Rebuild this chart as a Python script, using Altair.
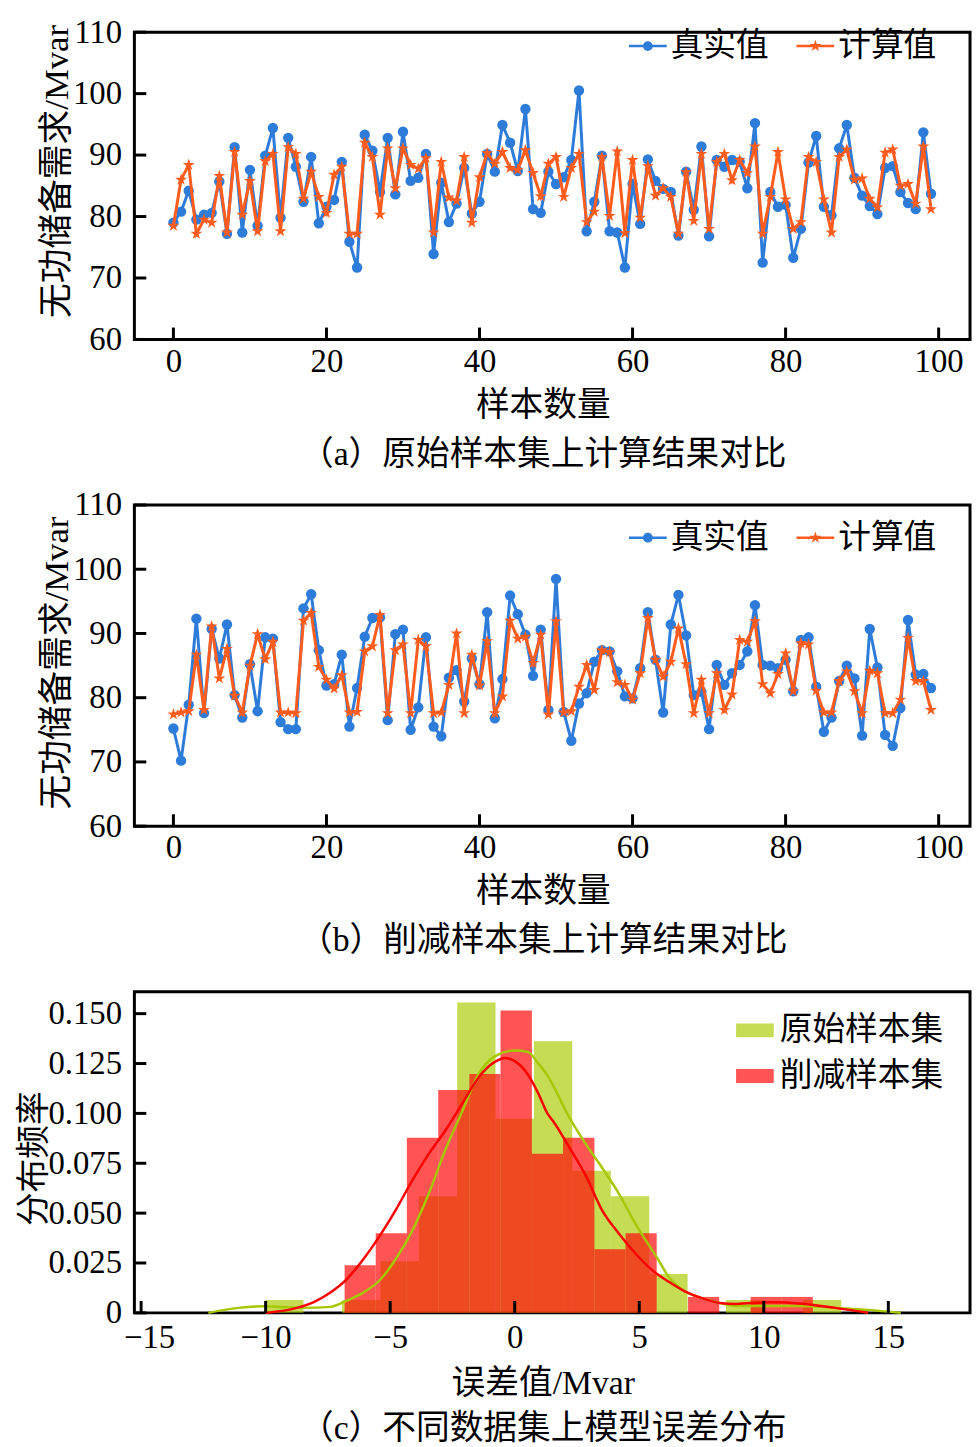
import altair as alt
import pandas as pd

FONT = "Liberation Serif, Noto Sans CJK SC"
BLUE = "#2E7CD9"
ORANGE = "#FF5C1E"
GREEN_BAR = "#ACCD0C"
RED_BAR = "#FF0C0C"
GREEN_LINE = "#A6C800"
RED_LINE = "#FF0000"

sample_idx = list(range(100))

a_true = [79.0, 80.8, 84.2, 79.5, 80.3, 80.6, 85.7, 77.2, 91.3, 77.4,
          87.6, 78.5, 89.9, 94.4, 79.8, 92.8, 88.1, 82.4, 89.7, 78.9,
          81.6, 82.7, 88.9, 75.9, 71.7, 93.3, 90.7, 84.0, 92.8, 83.6,
          93.8, 85.8, 86.3, 90.2, 73.9, 85.5, 79.1, 82.1, 87.9, 80.5,
          82.4, 90.2, 87.3, 94.9, 92.0, 87.4, 97.5, 81.2, 80.6, 87.3,
          85.3, 86.4, 89.2, 100.5, 77.6, 82.4, 89.9, 77.6, 77.4, 71.7,
          85.3, 78.8, 89.3, 85.8, 84.5, 84.0, 76.9, 87.3, 81.1, 91.4,
          76.8, 89.2, 88.1, 89.2, 88.9, 84.6, 95.2, 72.5, 84.0, 81.6,
          81.9, 73.3, 78.0, 88.8, 93.1, 81.6, 80.2, 91.1, 94.9, 86.3,
          83.4, 81.7, 80.4, 87.9, 88.2, 84.0, 82.2, 81.2, 93.7, 83.7]
a_calc = [78.5, 86.0, 88.4, 77.2, 79.5, 79.0, 86.6, 77.4, 90.5, 80.3,
          85.8, 77.6, 89.0, 90.2, 77.6, 91.3, 90.2, 82.9, 87.3, 83.2,
          80.6, 86.8, 88.1, 77.2, 77.2, 92.0, 89.7, 80.3, 91.1, 84.6,
          91.1, 88.4, 87.8, 89.5, 77.4, 88.9, 83.1, 82.6, 89.7, 79.0,
          86.4, 90.3, 88.6, 90.5, 87.9, 87.6, 90.8, 87.1, 83.3, 88.6,
          89.7, 83.2, 87.9, 90.2, 79.1, 80.8, 89.7, 80.1, 90.6, 77.3,
          89.2, 79.8, 88.2, 83.4, 84.6, 83.2, 77.2, 87.2, 79.3, 90.2,
          78.0, 88.9, 90.2, 85.9, 89.2, 87.1, 91.4, 77.2, 83.2, 90.5,
          82.8, 78.0, 79.1, 89.7, 88.9, 82.8, 77.4, 89.7, 90.9, 86.0,
          86.2, 82.9, 81.5, 90.4, 90.9, 85.0, 85.3, 82.1, 91.4, 81.2]

b_true = [75.2, 70.2, 78.9, 92.3, 77.6, 90.7, 86.1, 91.4, 80.4, 76.9,
          85.2, 77.9, 89.4, 89.2, 76.2, 75.1, 75.1, 93.9, 96.1, 87.4,
          81.9, 82.1, 86.7, 75.5, 81.5, 89.5, 92.4, 92.5, 76.5, 89.9,
          90.6, 75.0, 78.5, 89.4, 75.5, 74.0, 83.1, 84.3, 79.4, 86.1,
          82.1, 93.3, 76.8, 82.9, 95.9, 93.0, 89.8, 83.4, 90.6, 78.1,
          98.5, 77.8, 73.3, 79.1, 80.7, 85.6, 87.4, 87.2, 84.1, 80.2,
          79.9, 84.6, 93.3, 85.9, 77.7, 91.4, 96.0, 89.7, 80.4, 80.9,
          75.1, 85.1, 82.0, 83.8, 85.1, 87.2, 94.4, 85.1, 85.0, 84.6,
          85.9, 81.0, 89.0, 89.4, 81.7, 74.7, 76.9, 82.6, 85.0, 83.0,
          74.1, 90.7, 84.7, 74.2, 72.5, 78.4, 92.1, 83.6, 83.7, 81.5]
b_calc = [77.4, 77.7, 77.9, 86.7, 78.1, 91.1, 83.0, 87.6, 80.3, 77.7,
          85.0, 89.9, 86.0, 88.7, 77.7, 77.7, 77.6, 92.0, 93.2, 84.8,
          82.8, 81.4, 83.5, 77.7, 77.8, 87.2, 88.0, 92.9, 77.6, 87.4,
          88.3, 77.6, 89.0, 88.0, 77.6, 77.7, 82.0, 90.0, 77.6, 86.7,
          81.9, 88.8, 77.6, 80.2, 92.0, 89.2, 89.5, 85.4, 89.8, 77.4,
          91.9, 77.7, 77.9, 81.7, 85.1, 81.2, 87.4, 87.1, 82.4, 82.0,
          79.7, 83.8, 92.4, 85.9, 83.3, 85.6, 90.8, 85.2, 77.6, 82.8,
          77.6, 83.8, 78.1, 80.5, 89.0, 88.7, 91.9, 82.1, 80.7, 83.7,
          86.9, 81.0, 88.5, 88.3, 81.1, 77.7, 77.7, 82.6, 84.1, 81.0,
          77.6, 84.2, 83.8, 77.6, 77.6, 79.7, 89.3, 82.6, 82.6, 78.1]

x_ticks_ab = [0, 20, 40, 60, 80, 100]
y_ticks_ab = [60, 70, 80, 90, 100, 110]
x_ticks_c = [-15, -10, -5, 0, 5, 10, 15]
y_ticks_c = [0, 0.025, 0.05, 0.075, 0.1, 0.125, 0.15]

green_edges = [-10.02, -8.48, -6.94, -5.39, -3.85, -2.31, -0.77, 0.77,
               2.31, 3.86, 5.40, 6.94, 8.48, 10.03, 11.57, 13.11]
green_heights = [0.0065, 0.0, 0.0065, 0.0259, 0.0584, 0.1556, 0.0973, 0.1362,
                 0.0713, 0.0584, 0.0195, 0.0, 0.0065, 0.0, 0.0065]
red_edges = [-6.83, -5.58, -4.33, -3.07, -1.82, -0.57, 0.69, 1.94,
             3.20, 4.45, 5.70, 6.96, 8.21, 9.47, 10.72, 11.97]
red_heights = [0.0239, 0.0399, 0.0878, 0.1117, 0.1197, 0.1516, 0.0798, 0.0878,
               0.0319, 0.0399, 0.0, 0.0080, 0.0, 0.0080, 0.0080]

green_kde_x = [-12.3, -11.4, -10.1, -8.5, -7.4, -6.8, -6.1, -5.4, -4.8, -4.1,
               -3.45, -2.8, -2.1, -1.46, -0.8, 0.0, 0.53, 0.93, 1.33, 1.59,
               2.05, 2.85, 3.58, 4.18, 4.84, 5.77, 6.17, 6.83, 7.49, 8.22,
               8.89, 10.2, 11.5, 12.9, 14.2, 15.5]
green_kde_y = [0.0, 0.002, 0.0033, 0.0025, 0.003, 0.0058, 0.010, 0.0166, 0.0265, 0.0415,
               0.0598, 0.0813, 0.1012, 0.1195, 0.1286, 0.1315, 0.1308, 0.1253, 0.1187, 0.1129,
               0.1012, 0.0847, 0.0714, 0.0598, 0.0448, 0.0265, 0.0182, 0.0108, 0.0075, 0.005,
               0.0035, 0.0035, 0.0035, 0.0025, 0.0015, 0.0]
red_kde_x = [-10.0, -8.75, -8.09, -7.43, -6.77, -6.1, -5.44, -4.78, -4.11, -3.45,
             -2.79, -2.12, -1.46, -0.8, -0.4, 0.0, 0.53, 0.93, 1.33, 1.53,
             2.19, 2.85, 3.51, 4.18, 4.84, 5.50, 6.17, 6.83, 7.49, 8.22,
             8.89, 10.21, 11.54, 12.87, 14.19]
red_kde_y = [0.0, 0.0025, 0.0053, 0.010, 0.0166, 0.0265, 0.0382, 0.0515, 0.0664, 0.0797,
             0.0913, 0.1046, 0.1179, 0.1258, 0.1278, 0.1262, 0.1195, 0.1104, 0.0996, 0.0963,
             0.083, 0.0689, 0.0514, 0.0398, 0.0299, 0.0216, 0.0157, 0.0108, 0.0075, 0.005,
             0.0045, 0.0053, 0.0046, 0.0025, 0.0]

W = 843
TICK = 12

LEG_CIRCLE = ("M-1,-0.07L1,-0.07L1,0.07L-1,0.07Z "
              "M-0.26,0A0.26,0.26 0 1,1 0.26,0A0.26,0.26 0 1,1 -0.26,0Z")
LEG_STAR = ("M-1,-0.07L1,-0.07L1,0.07L-1,0.07Z "
            "M0,-0.33L0.074,-0.102L0.314,-0.102L0.12,0.039L0.194,0.267L0,0.126"
            "L-0.194,0.267L-0.12,0.039L-0.314,-0.102L-0.074,-0.102Z")
STAR = ("M0,-1L0.2245,-0.309L0.951,-0.309L0.363,0.118L0.588,0.809L0,0.382"
        "L-0.588,0.809L-0.363,0.118L-0.951,-0.309L-0.2245,-0.309Z")
LEG_RECT = "M-1,-0.37L1,-0.37L1,0.37L-1,0.37Z"


def legend(x, y, symbol, **kw):
    return alt.Legend(title=None, orient="none", legendX=x, legendY=y,
                      symbolType=symbol, symbolSize=1444, symbolStrokeWidth=0,
                      labelOffset=4, labelFont=FONT, labelFontSize=33,
                      labelColor="black", labelLimit=400, padding=0, **kw)


def line_panel(true_vals, calc_vals, caption, H, legend_y, ytitle_y, xtitle_y, cap_offset):
    df = pd.DataFrame({"i": sample_idx, "t": true_vals, "c": calc_vals})
    df["s1"] = "真实值"
    df["s2"] = "计算值"
    xs = alt.Scale(domain=[-5.1, 104.1], nice=False, zero=False)
    ys = alt.Scale(domain=[60, 110], nice=False, zero=False)
    xax = alt.Axis(values=x_ticks_ab, title="样本数量", labelPadding=6,
                   titleX=412, titleY=xtitle_y, titleBaseline="middle",
                   titleAlign="center")
    yax = alt.Axis(values=y_ticks_ab, title="无功储备需求/Mvar", labelPadding=13,
                   titleX=-78, titleY=ytitle_y, titleBaseline="middle",
                   titleAlign="center", titleAngle=270, titleFontSize=35)
    base = alt.Chart(df)
    X = alt.X("i:Q", scale=xs, axis=xax)
    blue_line = base.mark_line(color=BLUE, strokeWidth=3).encode(
        x=X, y=alt.Y("t:Q", scale=ys, axis=yax))
    blue_pts = base.mark_point(filled=True, shape="circle", size=110, opacity=1).encode(
        x=X, y=alt.Y("t:Q", scale=ys, axis=yax),
        color=alt.Color("s1:N", scale=alt.Scale(domain=["真实值"], range=[BLUE]),
                        legend=legend(499, legend_y, LEG_CIRCLE)))
    orange_line = base.mark_line(color=ORANGE, strokeWidth=3).encode(
        x=X, y=alt.Y("c:Q", scale=ys, axis=yax))
    orange_pts = base.mark_point(filled=True, shape=STAR, size=160, opacity=1).encode(
        x=X, y=alt.Y("c:Q", scale=ys, axis=yax),
        color=alt.Color("s2:N", scale=alt.Scale(domain=["计算值"], range=[ORANGE]),
                        legend=legend(668, legend_y, LEG_STAR)))
    yt = alt.Chart(pd.DataFrame({"v": y_ticks_ab})).mark_rule(color="black", strokeWidth=3).encode(
        y=alt.Y("v:Q", scale=ys, axis=yax), x=alt.value(0), x2=alt.value(TICK))
    xt = alt.Chart(pd.DataFrame({"v": x_ticks_ab})).mark_rule(color="black", strokeWidth=3).encode(
        x=alt.X("v:Q", scale=xs, axis=xax), y=alt.value(H), y2=alt.value(H - TICK))
    return alt.layer(blue_line, blue_pts, orange_line, orange_pts, yt, xt).resolve_scale(
        color="independent").resolve_legend(color="independent").properties(
        width=W, height=H,
        title=alt.TitleParams(caption, orient="bottom", anchor="middle", frame="group",
                              offset=cap_offset, dx=-9, font=FONT, fontSize=34,
                              fontWeight="normal", color="black"))


pa = line_panel(a_true, a_calc, "（a）原始样本集上计算结果对比", 310, -5, 140, 67, 16)
pb = line_panel(b_true, b_calc, "（b）削减样本集上计算结果对比", 324, 14, 159, 66, 16)

# panel c
rows = []
for k in range(len(green_heights)):
    rows.append({"x0": green_edges[k], "x1": green_edges[k + 1], "h": green_heights[k], "set": "原始样本集"})
for k in range(len(red_heights)):
    rows.append({"x0": red_edges[k], "x1": red_edges[k + 1], "h": red_heights[k], "set": "削减样本集"})
hist_df = pd.DataFrame(rows)
HC = 324
xs_c = alt.Scale(domain=[-15.27, 18.28], nice=False, zero=False)
ys_c = alt.Scale(domain=[0, 0.161], nice=False, zero=False)
xax_c = alt.Axis(values=x_ticks_c, title="误差值/Mvar", labelPadding=9,
                 labelOffset={"condition": {"test": "datum.value == -15", "value": 8}, "value": 0},
                 titleX=412, titleY=71, titleBaseline="middle", titleAlign="center")
yax_c = alt.Axis(values=y_ticks_c, title="分布频率", labelPadding=13,
                 labelExpr="datum.value == 0 ? '0' : format(datum.value, '.3f')",
                 titleX=-101, titleY=168, titleBaseline="middle", titleAlign="center",
                 titleAngle=270)
bars = alt.Chart(hist_df).mark_rect(opacity=0.7).encode(
    x=alt.X("x0:Q", scale=xs_c, axis=xax_c), x2="x1:Q",
    y=alt.Y("h:Q", scale=ys_c, axis=yax_c), y2=alt.Y2Datum(0),
    color=alt.Color("set:N", scale=alt.Scale(domain=["原始样本集", "削减样本集"],
                                             range=[GREEN_BAR, RED_BAR]),
                    legend=alt.Legend(title=None, orient="none", legendX=607, legendY=20,
                                      symbolType=LEG_RECT, symbolSize=1444,
                                      symbolStrokeWidth=0, symbolOpacity=0.7,
                                      labelOffset=6, rowPadding=10,
                                      labelFont=FONT, labelFontSize=33, labelColor="black",
                                      labelLimit=400, padding=0)),
    order=alt.Order("set:N", sort="descending"))
g_kde = alt.Chart(pd.DataFrame({"x": green_kde_x, "y": green_kde_y})).mark_line(
    color=GREEN_LINE, strokeWidth=2.5, interpolate="monotone").encode(
    x=alt.X("x:Q", scale=xs_c, axis=xax_c), y=alt.Y("y:Q", scale=ys_c, axis=yax_c))
r_kde = alt.Chart(pd.DataFrame({"x": red_kde_x, "y": red_kde_y})).mark_line(
    color=RED_LINE, strokeWidth=2.5, interpolate="monotone").encode(
    x=alt.X("x:Q", scale=xs_c, axis=xax_c), y=alt.Y("y:Q", scale=ys_c, axis=yax_c))
yt_c = alt.Chart(pd.DataFrame({"v": y_ticks_c})).mark_rule(color="black", strokeWidth=3).encode(
    y=alt.Y("v:Q", scale=ys_c, axis=yax_c), x=alt.value(0), x2=alt.value(TICK))
xt_c = alt.Chart(pd.DataFrame({"v": x_ticks_c})).mark_rule(color="black", strokeWidth=3).encode(
    x=alt.X("v:Q", scale=xs_c, axis=xax_c), y=alt.value(HC), y2=alt.value(HC - TICK))
pc = alt.layer(bars, g_kde, r_kde, yt_c, xt_c).properties(
    width=W, height=HC,
    title=alt.TitleParams("（c）不同数据集上模型误差分布", orient="bottom", anchor="middle",
                          frame="group", offset=12, dx=-9, font=FONT, fontSize=34,
                          fontWeight="normal", color="black"))

chart = alt.vconcat(pa, pb, pc, spacing=167, bounds="flush").resolve_scale(
    color="independent").resolve_legend(color="independent").properties(
    padding={"left": 7.5, "top": 0, "right": 0, "bottom": 0}
).configure_view(stroke="black", strokeWidth=3).configure_axis(
    labelFont=FONT, labelFontSize=33, labelColor="black", labelFlush=False,
    labelOverlap=False, titleFont=FONT, titleFontSize=34, titleFontWeight="normal",
    titleColor="black", grid=False, domain=False, ticks=False
)

chart.save("out.html", embed_options={"renderer": "svg", "actions": False})
